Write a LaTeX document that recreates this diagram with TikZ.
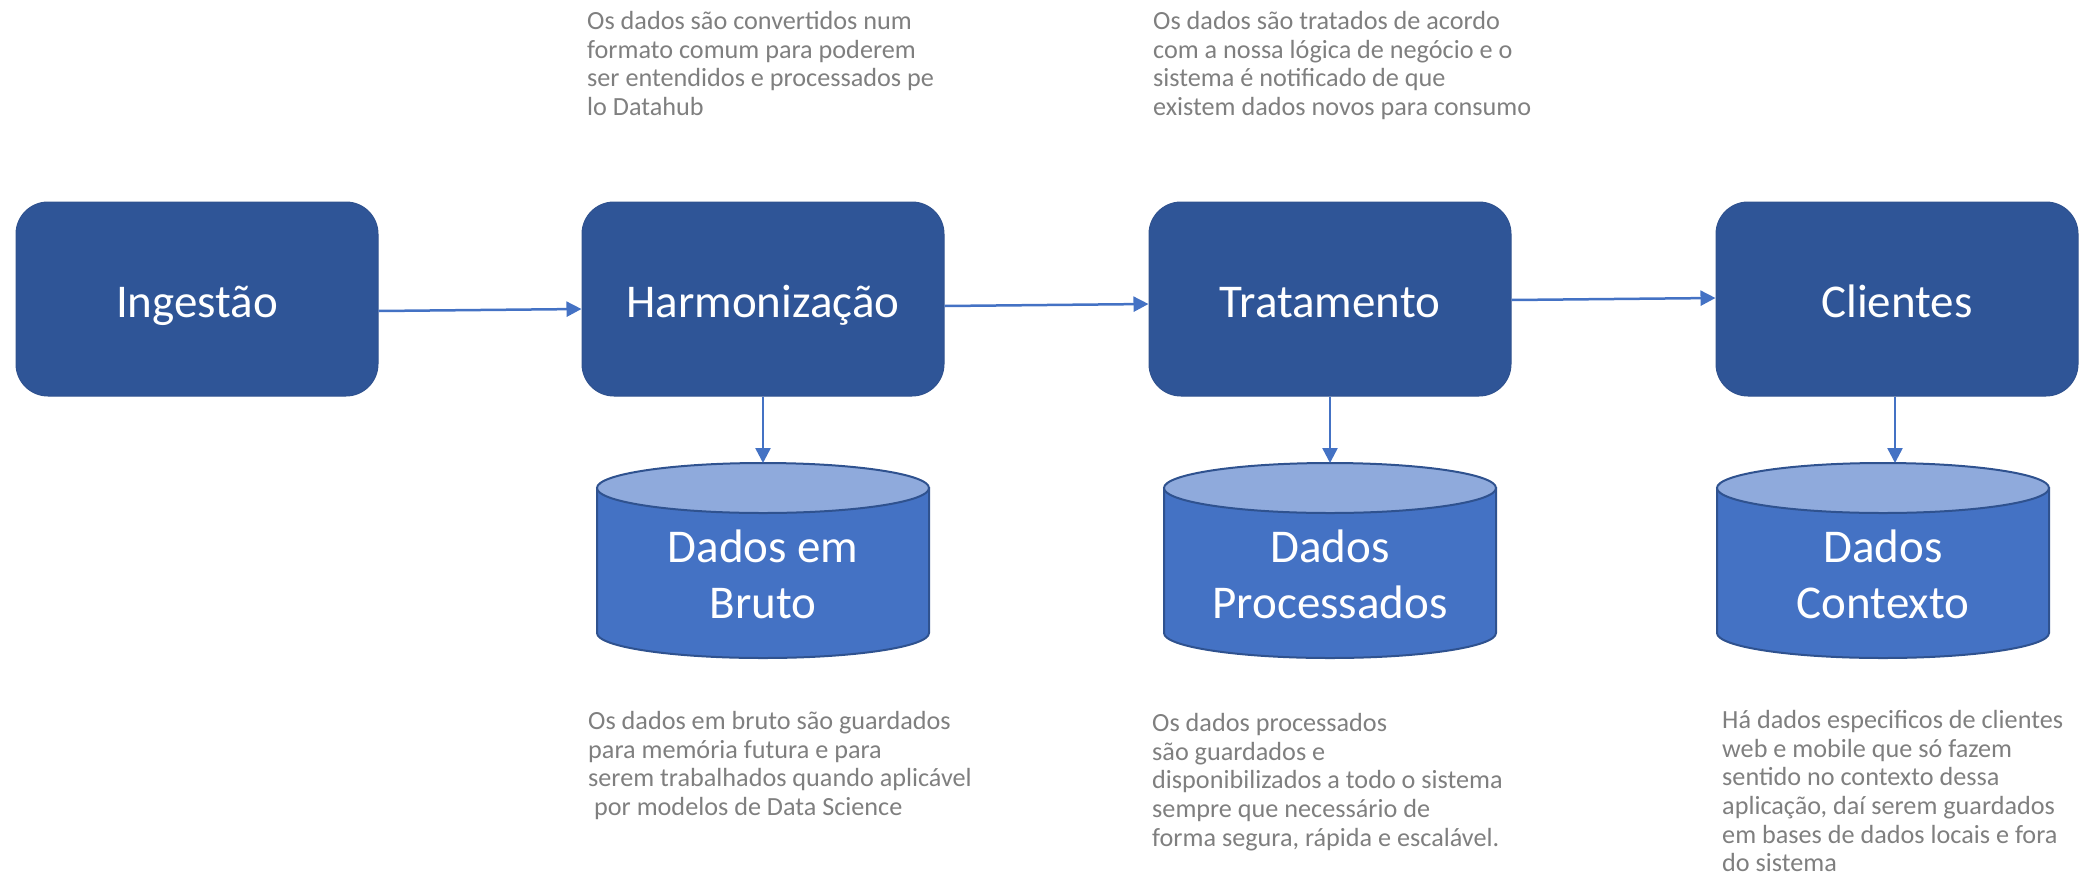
\documentclass[tikz,border=0pt]{standalone}
\usepackage{fontspec}
\setmainfont{Carlito}
\usetikzlibrary{arrows.meta}
\definecolor{boxblue}{HTML}{2F5597}
\definecolor{boxline}{HTML}{2F528F}
\definecolor{cylbody}{HTML}{4472C4}
\definecolor{cyltop}{HTML}{8FAADC}
\definecolor{arrowblue}{HTML}{4472C4}
\definecolor{notegray}{HTML}{7F7F7F}
\newcommand\dbcylinder[4]{% center x, half width, top-ellipse y, bottom-ellipse y
  \filldraw[cylline, fill=cylbody] (#1-#2,#3) -- (#1-#2,#4)
    arc[start angle=180, end angle=0, x radius=#2, y radius=25] -- (#1+#2,#3) -- cycle;
  \filldraw[cylline, fill=cyltop] (#1,#3) ellipse[x radius=#2, y radius=25];
}
\begin{document}
\begin{tikzpicture}[x=1pt,y=-1pt,
  stage/.style={rounded corners=32pt, fill=boxblue, draw=boxline, line width=1pt,
    minimum width=362pt, minimum height=194pt, text=white,
    text height=36pt, text depth=0pt,
    font=\fontsize{47}{56}\selectfont, inner sep=0pt},
  store/.style={text=white, font=\fontsize{47}{56}\selectfont, align=center, inner sep=0pt},
  note/.style={text=notegray, font=\fontsize{26.2}{28.7}\selectfont, align=left,
    anchor=north west, inner sep=0pt},
  flow/.style={draw=arrowblue, line width=2.5pt, -{Triangle[length=15pt,width=15pt]}},
  cylline/.style={draw=boxline, line width=2pt}
]
\useasboundingbox (0,0) rectangle (2080,892);

% stages
\node[stage] (ing)  at (197,299)  {Ingestão};
\node[stage] (harm) at (763,299)  {Harmonização};
\node[stage] (trat) at (1330,299) {Tratamento};
\node[stage] (cli)  at (1897,299) {Clientes};

% horizontal flow
\draw[flow] ([yshift=-12pt]ing.east)  -- ([yshift=-10pt]harm.west);
\draw[flow] ([yshift=-7pt]harm.east)  -- ([yshift=-5pt]trat.west);
\draw[flow] ([yshift=-1pt]trat.east)  -- ([yshift=1pt]cli.west);

% databases
\dbcylinder{763}{166}{488}{633}
\dbcylinder{1330}{166}{488}{633}
\dbcylinder{1883}{166}{488}{633}
\coordinate (rawtop)  at (763,463);
\coordinate (proctop) at (1330,463);
\coordinate (ctxtop)  at (1895,463);
\node[store] (raw)  at (763,574)  {Dados em\\Bruto};
\node[store] (proc) at (1330,574) {Dados\\Processados};
\node[store] (ctx)  at (1883,574) {Dados\\Contexto};

% vertical flow
\draw[flow] (harm.south) -- (rawtop);
\draw[flow] (trat.south) -- (proctop);
\draw[flow] (ctxtop |- cli.south) -- (ctxtop);

% notes
\node[note] (n1) at (587,11) {Os dados são convertidos num\\formato comum para poderem\\ser entendidos e processados pe\\lo Datahub};
\node[note] (n2) at (1153,11) {Os dados são tratados de acordo\\com a nossa lógica de negócio e o\\sistema é notificado de que\\existem dados novos para consumo};
\node[note] (n3) at (588,711) {Os dados em bruto são guardados\\para memória futura e para\\serem trabalhados quando aplicável\\\ por modelos de Data Science};
\node[note] (n4) at (1152,713) {Os dados processados\\são guardados e\\disponibilizados a todo o sistema\\sempre que necessário de\\forma segura, rápida e escalável.};
\node[note] (n5) at (1722,710) {Há dados especificos de clientes\\web e mobile que só fazem\\sentido no contexto dessa\\aplicação, daí serem guardados\\em bases de dados locais e fora\\do sistema};
\end{tikzpicture}
\end{document}
